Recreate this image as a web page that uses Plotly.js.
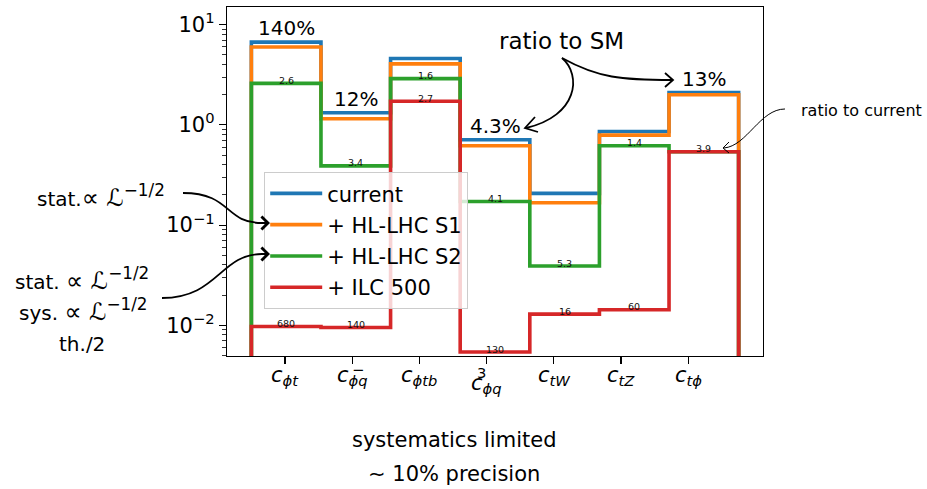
<!DOCTYPE html>
<html>
<head>
<meta charset="utf-8">
<script src="https://cdn.plot.ly/plotly-3.0.1.min.js"></script>
<style>html,body{margin:0;padding:0;background:#fff;}</style>
</head>
<body>
<div id="chart" style="width:927px;height:489px;"></div>
<script>
// Wilson coefficients (subscript, superscript) shown on the x axis
const coefSub = ['ϕt', 'ϕq', 'ϕtb', 'ϕq', 'tW', 'tZ', 'tϕ'];
const coefSup = ['', '−', '', '3', '', '', ''];

// Expected constraints for each scenario (log scale)
const current = [6.7, 1.32, 4.6, 0.71, 0.207, 0.86, 2.1];
const hllhcS1 = [6.0, 1.15, 4.07, 0.62, 0.167, 0.79, 2.0];
const hllhcS2 = [2.6, 0.39, 2.9, 0.172, 0.039, 0.62, 0.54];
const ilc500  = [0.0097, 0.0095, 1.72, 0.0054, 0.0129, 0.0143, 0.54];

// Text labels: precision relative to SM, and improvement relative to current
const ratioToSM   = ['140%', '12%', '', '4.3%', '', '', '13%'];
const ratioS2     = ['2.6', '3.4', '1.6', '4.1', '5.3', '1.4', ''];
const ratioILC    = ['680', '140', '2.7', '130', '16', '60', '3.9'];

const seriesNames  = ['current', '+ HL-LHC S1', '+ HL-LHC S2', '+ ILC 500'];
const seriesValues = [current, hllhcS1, hllhcS2, ilc500];
const seriesColors = ['#1f77b4', '#ff7f0e', '#2ca02c', '#d62728'];

const FONT = 'DejaVu Sans, sans-serif';
const nBins = coefSub.length;
const binLo = -0.5, binHi = 6.75;
const binW = (binHi - binLo) / nBins;
const edges = Array.from({length: nBins + 1}, (_, k) => binLo + k * binW);
const centers = edges.slice(0, -1).map(e => e + binW / 2);
const FLOOR = 1e-4;

// histogram outline (step) starting and ending at the bottom
function outline(vals) {
  const x = [edges[0]], y = [FLOOR];
  vals.forEach((v, i) => { x.push(edges[i]); y.push(v); });
  x.push(edges[nBins]); y.push(vals[nBins - 1]);
  x.push(edges[nBins]); y.push(FLOOR);
  return {x, y};
}

const traces = seriesValues.map((vals, s) => {
  const o = outline(vals);
  return {
    type: 'scatter', mode: 'lines', x: o.x, y: o.y,
    name: seriesNames[s], legendgroup: 'g' + s,
    line: {color: seriesColors[s], width: 3.6, shape: 'hv'},
    hoverinfo: 'skip'
  };
});

// frame geometry in pixels
const M = {l: 227, r: 164, t: 7, b: 133};
const W = 927, H = 489;
const PL = M.l, PR = W - M.r, PT = M.t, PB = H - M.b;
const fx = x => (x - PL) / (PR - PL);
const fy = y => (PB - y) / (PB - PT);
function pathOf(cmds) {
  return cmds.map(c => {
    const pts = [];
    for (let k = 1; k < c.length; k += 2) pts.push(fx(c[k]).toFixed(5) + ',' + fy(c[k + 1]).toFixed(5));
    return c[0] + ' ' + pts.join(' ');
  }).join(' ');
}

const annotations = [];
const shapes = [];

// value labels on the steps
centers.forEach((cx, i) => {
  if (ratioToSM[i]) annotations.push({x: cx, y: Math.log10(current[i]), xref: 'x', yref: 'y',
    text: ratioToSM[i], showarrow: false, xanchor: 'center', yanchor: 'bottom',
    font: {family: FONT, size: 20, color: '#000'}});
  if (ratioS2[i]) annotations.push({x: cx, y: Math.log10(hllhcS2[i]), xref: 'x', yref: 'y',
    text: ratioS2[i], showarrow: false, xanchor: 'center', yanchor: 'middle', yshift: 3,
    font: {family: FONT, size: 9.5, color: '#111'}});
  if (ratioILC[i]) annotations.push({x: cx, y: Math.log10(ilc500[i]), xref: 'x', yref: 'y',
    text: ratioILC[i], showarrow: false, xanchor: 'center', yanchor: 'middle', yshift: 3,
    font: {family: FONT, size: 9.5, color: '#111'}});
});

// x tick labels c_{..}^{..}
coefSub.forEach((sub, i) => {
  const tall = coefSup[i] === '3';
  annotations.push({x: i, xref: 'x', y: fy(tall ? 384 : 376), yref: 'paper',
    text: '<i>c<sub>' + sub + '</sub></i>', showarrow: false, xanchor: 'center', yanchor: 'middle',
    font: {family: FONT, size: 21, color: '#000'}});
  if (coefSup[i]) annotations.push({x: i, xref: 'x', y: fy(tall ? 373 : 369), yref: 'paper',
    xshift: tall ? -5 : 5.5,
    text: coefSup[i], showarrow: false, xanchor: 'center', yanchor: 'middle',
    font: {family: FONT, size: 14.7, color: '#000'}});
});

function label(text, x, y, size, anchor) {
  annotations.push({x: fx(x), y: fy(y), xref: 'paper', yref: 'paper', text: text,
    showarrow: false, xanchor: anchor || 'center', yanchor: 'middle',
    font: {family: FONT, size: size, color: '#000'}});
}
const propL = '<span style="font-size:24px">∝ ℒ<sup>−1/2</sup></span>';
label('ratio to SM', 561, 41, 23);
label('ratio to current', 861, 111, 16);
label('stat.' + propL, 101, 196, 20);
label('stat. ' + propL, 82, 279, 20);
label('sys. ' + propL, 83, 310, 20);
label('th./2', 82, 344, 20);
label('systematics limited', 454, 440, 21);
label('∼ 10% precision', 454, 474, 21);

function curve(pts, w) {
  shapes.push({type: 'path', xref: 'paper', yref: 'paper', layer: 'above',
    path: pathOf(pts), line: {color: '#000', width: w}});
}
// open arrow tip drawn as an annotation so it sits above the legend box
function tip(x, y, dx, dy, w) {
  annotations.push({x: fx(x), y: fy(y), xref: 'paper', yref: 'paper', text: '',
    showarrow: true, ax: dx, ay: dy, arrowhead: 4, arrowsize: 1.4, arrowwidth: w,
    arrowcolor: '#000', standoff: 0});
}
// curved arrows
curve([['M', 183, 193], ['C', 232, 193, 224, 223, 262, 223]], 1.8);
tip(270, 223, -10, 0, 1.8);
curve([['M', 162, 298], ['C', 218, 298, 220, 254, 262, 254]], 1.8);
tip(270, 254, -10, 0, 1.8);
curve([['M', 562, 58], ['C', 598, 78, 622, 80, 672, 80]], 1.8);
curve([['M', 665, 73], ['L', 673, 80], ['L', 665, 87]], 1.8);
curve([['M', 562, 58], ['C', 582, 75, 578, 116, 526, 128]], 1.8);
curve([['M', 535, 117], ['L', 525, 128], ['L', 538, 132]], 1.8);
curve([['M', 785, 109], ['C', 760, 109, 747, 146, 724, 148]], 1);
curve([['M', 729, 142], ['L', 723, 148], ['L', 729, 153]], 1);

const minorVals = [];
for (let d = -3; d <= 1; d++) for (let m = 2; m <= 9; m++) minorVals.push(m * Math.pow(10, d));

const layout = {
  width: W, height: H,
  margin: M,
  paper_bgcolor: '#fff', plot_bgcolor: '#fff',
  showlegend: true,
  legend: {x: fx(264), y: fy(172), xanchor: 'left', yanchor: 'top',
    bgcolor: 'rgba(255,255,255,0.8)', bordercolor: '#cccccc', borderwidth: 1.2,
    font: {family: FONT, size: 21, color: '#000'}, tracegroupgap: 1, itemwidth: 52},
  xaxis: {range: [-0.8625, 7.1125], tickmode: 'array', tickvals: coefSub.map((_, i) => i),
    showticklabels: false, ticks: 'outside', ticklen: 7, tickwidth: 1.1, tickcolor: '#000',
    showline: true, linecolor: '#000', linewidth: 1.2, mirror: true,
    showgrid: false, zeroline: false, fixedrange: true},
  yaxis: {type: 'log', range: [-2.307, 1.177], tickmode: 'array',
    tickvals: [0.01, 0.1, 1, 10],
    ticktext: ['10<sup>−2</sup>', '10<sup>−1</sup>', '10<sup>0</sup>', '10<sup>1</sup>'],
    ticks: 'outside', ticklen: 7, tickwidth: 1.1, tickcolor: '#000',
    tickfont: {family: FONT, size: 21, color: '#000'},
    minor: {tickmode: 'array', tickvals: minorVals, ticks: 'outside', ticklen: 4,
      tickwidth: 0.8, tickcolor: '#000', showgrid: false},
    showline: true, linecolor: '#000', linewidth: 1.2, mirror: true,
    showgrid: false, zeroline: false, fixedrange: true},
  annotations: annotations,
  shapes: shapes
};

Plotly.newPlot('chart', traces, layout, {displayModeBar: false, staticPlot: true});
</script>
</body>
</html>
